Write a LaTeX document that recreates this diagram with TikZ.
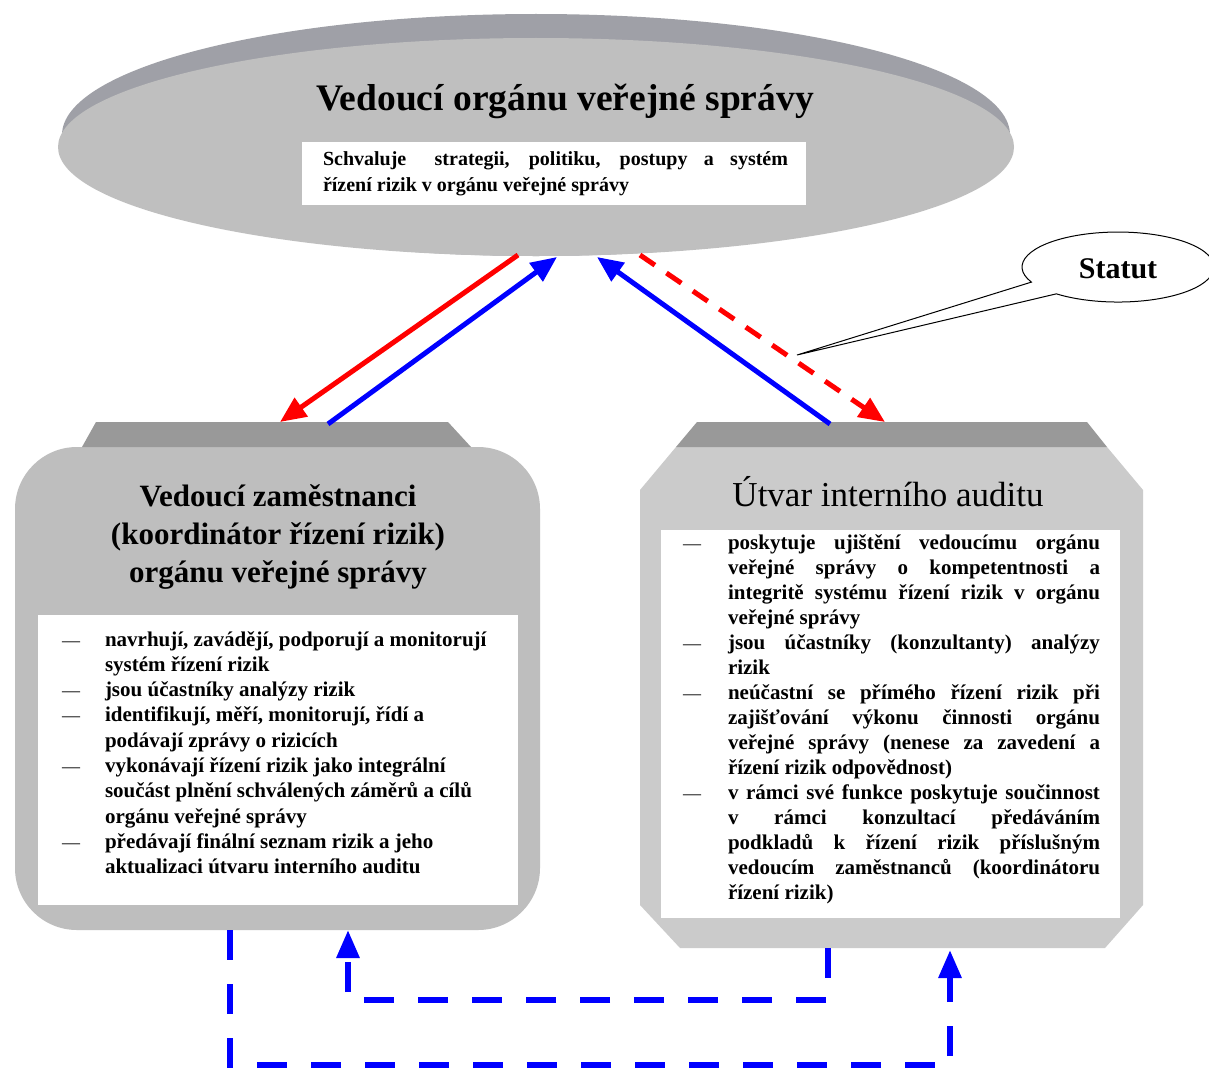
\documentclass[tikz,border=0pt]{standalone}
\usepackage{fontspec}
\setmainfont{Liberation Serif}
\usetikzlibrary{arrows.meta}
\definecolor{rim}{HTML}{9FA0A7}
\definecolor{ellfill}{HTML}{BFBFBF}
\definecolor{leftfill}{HTML}{BEBEBE}
\definecolor{rightfill}{HTML}{CBCBCB}
\definecolor{band}{HTML}{999999}
\definecolor{myblue}{HTML}{0000FF}
\definecolor{myred}{HTML}{FF0000}
\newcommand\justline[1]{\makebox[372pt][s]{#1}}
\newcommand\dashmark{{\mdseries\fontsize{18}{25}\selectfont —}}
\begin{document}
\begin{tikzpicture}[x=1pt,y=-1pt,
  flow/.style={line width=5pt, -{Triangle[length=26pt,width=22pt]}},
  loopline/.style={line width=6pt, myblue, dash pattern=on 30pt off 24pt, -{Triangle[length=28pt,width=22pt]}},
  txt/.style={inner sep=0pt, outer sep=0pt},
  whitebox/.style={fill=white, draw=none, inner sep=0pt, anchor=north west},
]
\useasboundingbox (0,0) rectangle (1209,1073);
\fill[white] (0,0) rectangle (1209,1073);

% ---- top ellipse: head of the public administration body
\fill[rim] (536,135) ellipse [x radius=474, y radius=121];
\fill[ellfill] (536,147) ellipse [x radius=478, y radius=109];
\node[txt, anchor=base] (leadtitle) at (565,110)
  {\fontsize{37.5}{42}\selectfont\bfseries Vedoucí orgánu veřejné správy};
\node[whitebox, minimum width=504pt, minimum height=63pt] (leadnote) at (302,142) {};
\node[txt, anchor=base west] (leadtext) at (323,165)
  {\fontsize{20}{26}\selectfont\bfseries\begin{tabular}[t]{@{}l@{}}
   \makebox[465pt][s]{Schvaluje\hspace{12pt} strategii, politiku, postupy a systém}\\
   řízení rizik v orgánu veřejné správy
   \end{tabular}};

% ---- left box: senior staff
\fill[leftfill, rounded corners=62pt] (15,447) rectangle (540,930);
\fill[band] (96,422) -- (448,422) -- (471,447) -- (82,447) -- cycle;
\node[txt, anchor=base] (coordtitle) at (278,506)
  {\fontsize{31}{38}\selectfont\bfseries\begin{tabular}[t]{@{}c@{}}
   Vedoucí zaměstnanci\\
   (koordinátor řízení rizik)\\
   orgánu veřejné správy
   \end{tabular}};
\node[whitebox, minimum width=480pt, minimum height=290pt] (coordnote) at (38,615) {};
\node[txt, anchor=base west] (coordlist) at (62,646)
  {\fontsize{21}{25.3}\selectfont\bfseries\begin{tabular}[t]{@{}p{43pt}@{}l@{}}
   \dashmark & navrhují, zavádějí, podporují a monitorují\\
     & systém řízení rizik\\
   \dashmark & jsou účastníky analýzy rizik\\
   \dashmark & identifikují, měří, monitorují, řídí a\\
     & podávají zprávy o rizicích\\
   \dashmark & vykonávají řízení rizik jako integrální\\
     & součást plnění schválených záměrů a cílů\\
     & orgánu veřejné správy\\
   \dashmark & předávají finální seznam rizik a jeho\\
     & aktualizaci útvaru interního auditu
   \end{tabular}};

% ---- right box: internal audit unit
\fill[rightfill] (676,447) -- (1107,447) -- (1143,490) -- (1143,905) -- (1105,948)
  -- (680,948) -- (640,905) -- (640,490) -- cycle;
\fill[band] (697,422) -- (1087,422) -- (1107,447) -- (676,447) -- cycle;
\node[txt, anchor=base] (audittitle) at (888,506)
  {\fontsize{35}{40}\selectfont Útvar interního auditu};
\node[whitebox, minimum width=459pt, minimum height=388pt] (auditnote) at (661,530) {};
\node[txt, anchor=base west] (auditlist) at (683,549)
  {\fontsize{21}{25}\selectfont\bfseries\begin{tabular}[t]{@{}p{45pt}@{}l@{}}
   \dashmark & \justline{poskytuje ujištění vedoucímu orgánu}\\
     & \justline{veřejné správy o kompetentnosti a}\\
     & \justline{integritě systému řízení rizik v orgánu}\\
     & veřejné správy\\
   \dashmark & \justline{jsou účastníky (konzultanty) analýzy}\\
     & rizik\\
   \dashmark & \justline{neúčastní se přímého řízení rizik při}\\
     & \justline{zajišťování výkonu činnosti orgánu}\\
     & \justline{veřejné správy (nenese za zavedení a}\\
     & řízení rizik odpovědnost)\\
   \dashmark & \justline{v rámci své funkce poskytuje součinnost}\\
     & \justline{v rámci konzultací předáváním}\\
     & \justline{podkladů k řízení rizik příslušným}\\
     & \justline{vedoucím zaměstnanců (koordinátoru}\\
     & řízení rizik)
   \end{tabular}};

% ---- connector end points
\coordinate (leadRedOut)   at (518,255);
\coordinate (coordRedIn)   at (280,422);
\coordinate (coordBlueOut) at (328,424);
\coordinate (leadBlueInL)  at (557,257);
\coordinate (auditBlueOut) at (830,424);
\coordinate (leadBlueInR)  at (597,257);
\coordinate (leadRedOutR)  at (640,255);
\coordinate (auditRedIn)   at (885,422);
\coordinate (auditLoopOut) at (828,948);
\coordinate (coordLoopIn)  at (348,930);
\coordinate (coordLoopOut) at (230,930);
\coordinate (auditLoopIn)  at (950,950);
\coordinate (loopOneY)     at (0,1000);
\coordinate (loopTwoY)     at (0,1065);

% ---- connectors between ellipse and boxes
\draw[flow, myred] (leadRedOut) -- (coordRedIn);
\draw[flow, myblue] (coordBlueOut) -- (leadBlueInL);
\draw[flow, myblue] (auditBlueOut) -- (leadBlueInR);
\draw[flow, myred, dash pattern=on 18pt off 14pt] (leadRedOutR) -- (auditRedIn);

% ---- Statut callout
\coordinate (statutTip) at (797,355);
\filldraw[fill=white, draw=black, line width=1pt]
  (1031.4,282.1) arc[start angle=154.5, end angle=490, x radius=96, y radius=35]
  -- (statutTip) -- cycle;
\node[txt, anchor=base] (statut) at (1118,278) {\fontsize{30}{36}\selectfont\bfseries Statut};

% ---- dashed feedback loops
\draw[loopline] (auditLoopOut) -- (auditLoopOut |- loopOneY) -- (coordLoopIn |- loopOneY) -- (coordLoopIn);
\draw[loopline] (coordLoopOut) -- (coordLoopOut |- loopTwoY) -- (auditLoopIn |- loopTwoY) -- (auditLoopIn);
\end{tikzpicture}
\end{document}
